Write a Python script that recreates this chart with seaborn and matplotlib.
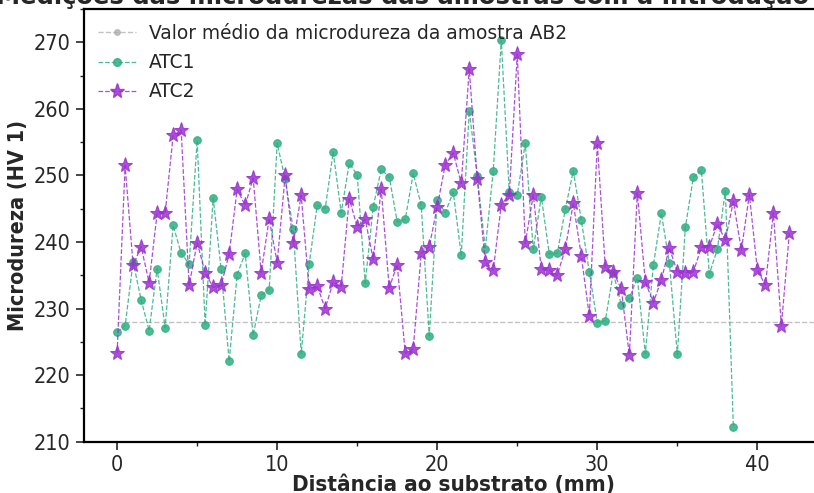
import numpy as np
import pandas as pd
import matplotlib
matplotlib.use("Agg")
import matplotlib.pyplot as plt
from matplotlib.lines import Line2D
from matplotlib.ticker import MultipleLocator
from matplotlib import font_manager
import seaborn as sns

# ---------------- data ----------------
dist_atc1 = [i * 0.5 for i in range(78)]   # 0 .. 38.5 mm
hv_atc1 = [226.5, 227.4, 237.0, 231.3, 226.7, 236.0, 227.1, 242.5, 238.3, 236.7,
           255.3, 227.5, 246.6, 235.9, 222.1, 235.1, 238.3, 226.0, 232.0, 232.8,
           254.8, 249.4, 242.0, 223.2, 236.7, 245.5, 245.0, 253.5, 244.4, 251.8,
           250.1, 233.8, 245.3, 250.9, 249.8, 243.0, 243.4, 250.3, 245.5, 225.9,
           246.3, 244.4, 247.5, 238.0, 259.7, 249.9, 239.0, 250.7, 270.3, 247.5,
           247.1, 254.8, 238.9, 246.8, 238.2, 238.3, 244.9, 250.7, 243.3, 235.5,
           227.9, 228.2, 235.4, 230.5, 231.6, 234.6, 223.2, 236.5, 244.3, 236.9,
           223.1, 242.2, 249.7, 250.8, 235.2, 238.9, 247.7, 212.2]

dist_atc2 = [i * 0.5 for i in range(85)]   # 0 .. 42 mm
hv_atc2 = [223.3, 251.5, 236.5, 239.3, 233.9, 244.3, 244.3, 256.0, 256.8, 233.5,
           239.9, 235.4, 233.2, 233.5, 238.2, 247.9, 245.5, 249.6, 235.4, 243.5,
           236.9, 250.0, 239.8, 247.0, 232.9, 233.4, 230.0, 234.0, 233.3, 246.5,
           242.3, 243.4, 237.4, 247.9, 233.1, 236.6, 223.3, 224.0, 238.3, 239.3,
           245.3, 251.6, 253.4, 248.8, 266.0, 249.5, 237.0, 235.8, 245.6, 247.1,
           268.2, 239.8, 247.1, 235.9, 235.8, 235.0, 239.0, 245.8, 237.9, 228.9,
           254.8, 236.2, 235.5, 232.9, 223.0, 247.4, 234.0, 230.9, 234.3, 239.1,
           235.5, 235.4, 235.5, 239.2, 239.3, 242.7, 240.3, 246.1, 238.8, 247.1,
           235.8, 233.5, 244.4, 227.4, 241.4]

mean_ab2 = 228.0

series_labels = ["Valor médio da microdureza da amostra AB2", "ATC1", "ATC2"]
title_text = "Medições das microdurezas das amostras com a introdução do ATC"
xlabel_text = "Distância ao substrato (mm)"
ylabel_text = "Microdureza (HV 1)"

green = "#2fae80"
purple = "#9b30d0"
grey = "#a9a9a9"

# ---------------- plot ----------------
sns.set_style("ticks")
plt.rcParams["font.family"] = ["DejaVu Sans"]

has_cond = any("DejaVu" in f.fname and "Condensed" in f.fname
               for f in font_manager.fontManager.ttflist)
stretch = "condensed" if has_cond else "normal"

fig = plt.figure(figsize=(8.14, 4.93), dpi=100)
ax = fig.add_axes([83.5 / 814, (493 - 441.7) / 493, (823 - 83.5) / 814, (441.7 - 9) / 493])

df1 = pd.DataFrame({"x": dist_atc1, "y": hv_atc1})
df2 = pd.DataFrame({"x": dist_atc2, "y": hv_atc2})

sns.lineplot(data=df1, x="x", y="y", ax=ax, color=green, linestyle="--", linewidth=0.9,
             alpha=0.85, marker="o", markersize=5.5, markeredgecolor=green,
             markerfacecolor=green, zorder=3)
sns.lineplot(data=df2, x="x", y="y", ax=ax, color=purple, linestyle="--", linewidth=0.9,
             alpha=0.85, marker="*", markersize=11, markeredgecolor=purple,
             markerfacecolor=purple, zorder=4)

ax.set_xlim(-2.1, 44.1)
ax.set_ylim(210, 275)
ax.hlines(mean_ab2, xmin=dist_atc2[0], xmax=ax.get_xlim()[1], colors=grey,
          linestyles="--", linewidth=1.0, alpha=0.7, zorder=2)

ax.xaxis.set_major_locator(MultipleLocator(10))
ax.xaxis.set_minor_locator(MultipleLocator(5))
ax.yaxis.set_major_locator(MultipleLocator(10))
ax.yaxis.set_minor_locator(MultipleLocator(5))
ax.tick_params(axis="both", which="major", labelsize=15.5, length=6, width=1.2)
ax.tick_params(axis="both", which="minor", length=3, width=1.0)
for lab in ax.get_xticklabels() + ax.get_yticklabels():
    lab.set_fontstretch(stretch)

for s in ax.spines.values():
    s.set_linewidth(1.6)
    s.set_color("black")

ax.set_xlabel(xlabel_text, fontsize=16, fontweight="bold", labelpad=0, fontstretch=stretch)
ax.set_ylabel(ylabel_text, fontsize=15.5, fontweight="bold", labelpad=4, fontstretch=stretch)
ax.set_title(title_text, fontsize=17.5, fontweight="bold", pad=3)

handles = [
    Line2D([], [], color=grey, linestyle="--", linewidth=1.0, marker="o", markersize=4, alpha=0.7),
    Line2D([], [], color=green, linestyle="--", linewidth=0.9, marker="o", markersize=5.5, alpha=0.85),
    Line2D([], [], color=purple, linestyle="--", linewidth=0.9, marker="*", markersize=11, alpha=0.85),
]
ax.legend(handles, series_labels, loc="upper left", frameon=False, fontsize=13.4,
          labelspacing=0.55, handletextpad=0.7, borderaxespad=0.4)

fig.savefig("out.png", dpi=100)
